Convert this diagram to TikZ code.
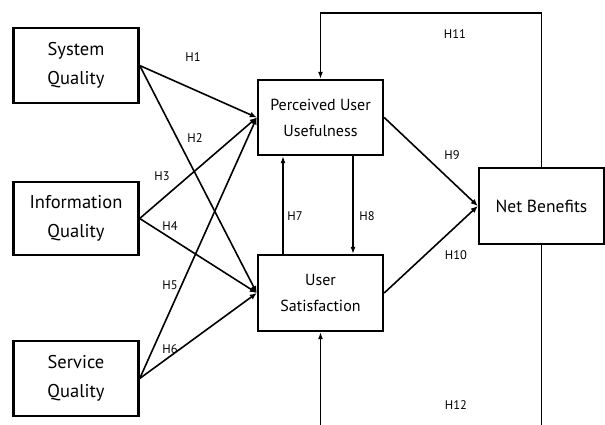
\documentclass[tikz,border=0pt]{standalone}
\usepackage{fontspec}
\setmainfont{PT Sans}
\usetikzlibrary{arrows.meta}
\begin{document}
\begin{tikzpicture}[x=1pt,y=-1pt,
  box/.style={draw,line width=2.4pt,minimum width=125pt,minimum height=75pt,align=center,inner sep=0pt,font=\fontsize{18.5}{29}\selectfont},
  mbox/.style={box,font=\fontsize{16}{26}\selectfont},
  conn/.style={line width=1.6pt,-{Latex[length=7pt,width=6pt]}},
  thin/.style={line width=1.2pt},
  tip/.style={-{Latex[length=7pt,width=5pt]}},
  lab/.style={font=\fontsize{12.5}{14}\selectfont,inner sep=0pt}]
\useasboundingbox (0,0) rectangle (605,424);
\node[box] (SQ) at (76,65.5) {System\\Quality};
\node[box,minimum height=73pt] (IQ) at (76,218.5) {Information\\Quality};
\node[box] (SV) at (76,378.5) {Service\\Quality};
\node[mbox] (PU) at (320.5,117.5) {Perceived User\\Usefulness};
\node[mbox,minimum height=76pt] (US) at (320.5,293) {User\\Satisfaction};
\node[box,minimum height=76pt,font=\fontsize{17.5}{26}\selectfont] (NB) at (541.5,206) {Net Benefits};
\draw[conn] (SQ.east) -- (PU.west);
\draw[conn] (SQ.east) -- (US.west);
\draw[conn] (IQ.east) -- (PU.west);
\draw[conn] (IQ.east) -- (US.west);
\draw[conn] (SV.east) -- (PU.west);
\draw[conn] (SV.east) -- (US.west);
\draw[conn] (PU.east) -- (NB.west);
\draw[conn] (US.east) -- (NB.west);
\draw[thin,tip] ([xshift=-37.5pt]US.north) -- ([xshift=-37.5pt]PU.south);
\draw[thin,tip] ([xshift=32.5pt]PU.south) -- ([xshift=32.5pt]US.north);
\coordinate (t) at (430,13);
\draw[thin,tip] (NB.north) |- (t) -| (PU.north);
\coordinate (b1) at (541.5,430);
\coordinate (b2) at (320.5,430);
\draw[thin] (NB.south) -- (b1);
\draw[thin,tip] (b2) -- (US.south);
\node[lab] at (193,57) {H1};
\node[lab] at (195,138) {H2};
\node[lab] at (162,176) {H3};
\node[lab] at (170,226) {H4};
\node[lab] at (170,285) {H5};
\node[lab] at (170,349) {H6};
\node[lab] at (295,216) {H7};
\node[lab] at (367,216) {H8};
\node[lab] at (452,155) {H9};
\node[lab] at (456,255) {H10};
\node[lab] at (455,34) {H11};
\node[lab] at (456,405) {H12};
\end{tikzpicture}
\end{document}
